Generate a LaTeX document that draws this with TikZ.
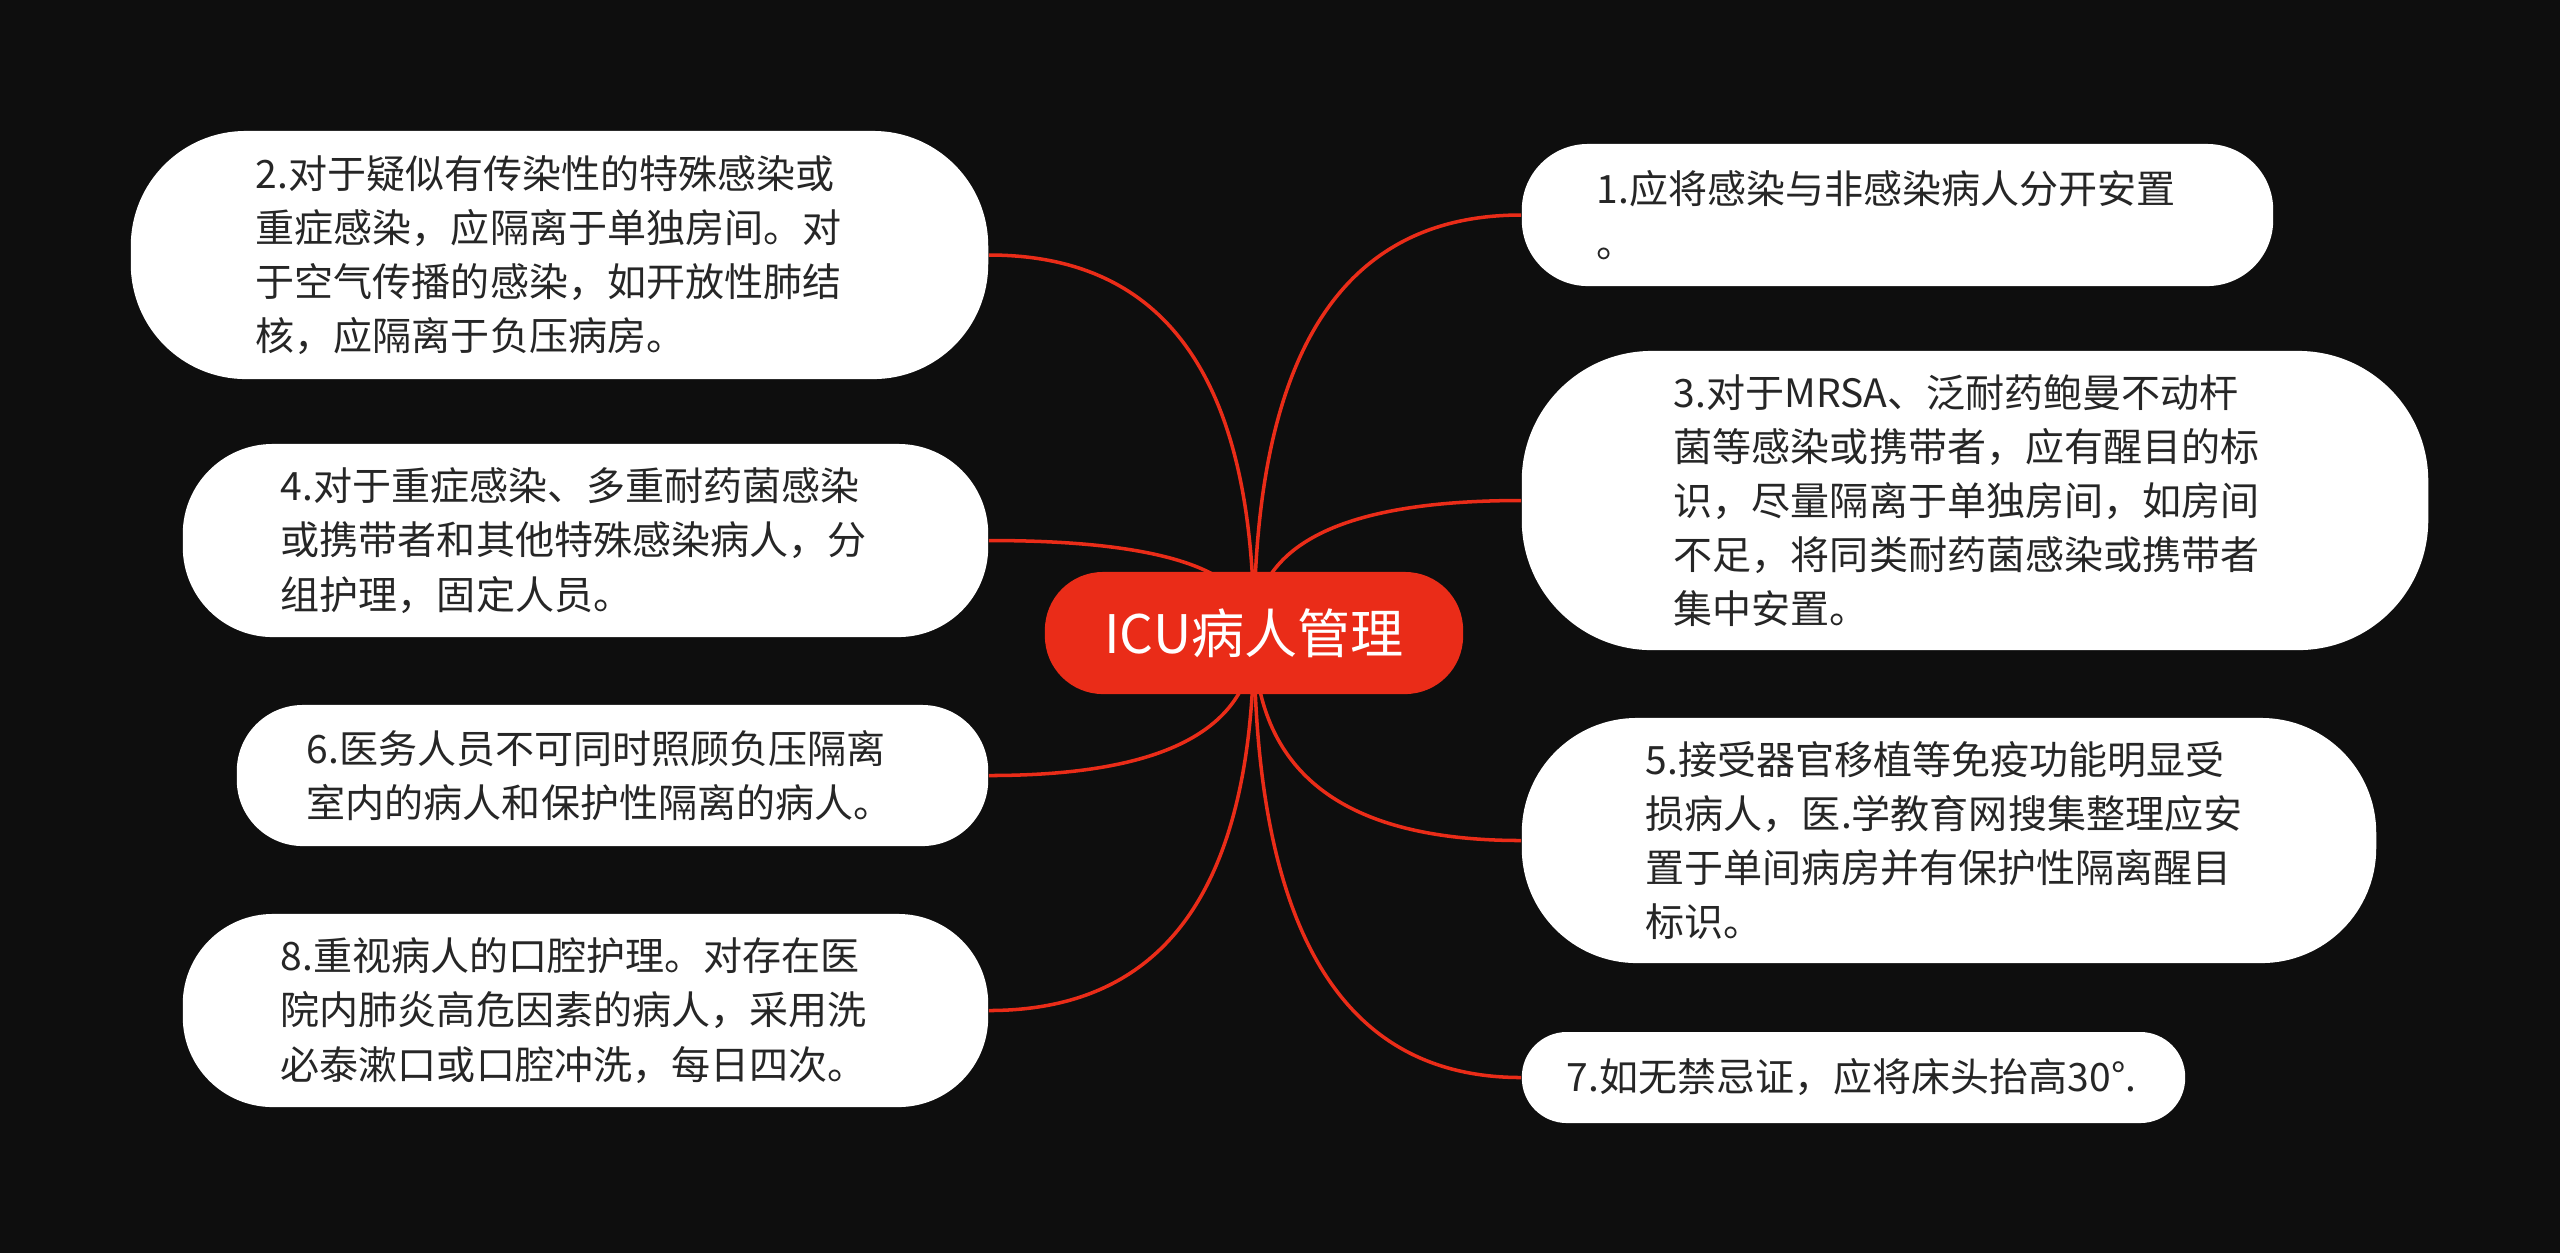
\documentclass[tikz,border=0pt]{standalone}
\usepackage{fontspec}
\setmainfont{Noto Sans CJK SC}
\usetikzlibrary{calc}
\definecolor{bgblack}{RGB}{14,14,14}
\definecolor{icured}{RGB}{234,44,24}
\definecolor{ink}{RGB}{38,38,38}
\pgfdeclarelayer{back}
\pgfdeclarelayer{wires}
\pgfsetlayers{back,wires,main}
\tikzset{
  leaf/.style={fill=white, text=ink, align=left, inner sep=0pt,
    font=\fontsize{11.1pt}{15.4pt}\selectfont},
  topic/.style={fill=icured, text=white, inner sep=0pt, rounded corners=0.58cm,
    minimum width=4.18cm, minimum height=1.22cm,
    font=\fontsize{15.1pt}{18pt}\selectfont},
  link/.style={draw=icured, line width=1pt,
    to path={.. controls ($(\tikztostart)!0.67!(\tikztostart|-\tikztotarget)$)
      and ($(\tikztotarget)!0.67!(\tikztostart|-\tikztotarget)$) .. (\tikztotarget)}},
}
\begin{document}
\begin{tikzpicture}[x=0.01cm, y=-0.01cm]
\useasboundingbox (0,0) rectangle (2560,1253);
\begin{pgfonlayer}{back}
\fill[bgblack] (0,0) rectangle (2560,1253);
\end{pgfonlayer}

\node[topic] (root) at (1254,633) {ICU病人管理};

% left side
\node[leaf, minimum width=8.57cm, minimum height=2.48cm, text width=6.07cm, rounded corners=1.15cm]
  (b2) at (559.5,255) {2.对于疑似有传染性的特殊感染或\\重症感染，应隔离于单独房间。对\\于空气传播的感染，如开放性肺结\\核，应隔离于负压病房。};
\node[leaf, minimum width=8.05cm, minimum height=1.93cm, text width=6.09cm, rounded corners=0.9cm]
  (b4) at (585.5,540.5) {4.对于重症感染、多重耐药菌感染\\或携带者和其他特殊感染病人，分\\组护理，固定人员。};
\node[leaf, minimum width=7.51cm, minimum height=1.41cm, text width=6.11cm, rounded corners=0.66cm]
  (b6) at (612.5,775.5) {6.医务人员不可同时照顾负压隔离\\室内的病人和保护性隔离的病人。};
\node[leaf, minimum width=8.05cm, minimum height=1.93cm, text width=6.09cm, rounded corners=0.9cm]
  (b8) at (585.5,1010.5) {8.重视病人的口腔护理。对存在医\\院内肺炎高危因素的病人，采用洗\\必泰漱口或口腔冲洗，每日四次。};

% right side
\node[leaf, minimum width=7.51cm, minimum height=1.42cm, text width=6.01cm, rounded corners=0.66cm]
  (b1) at (1897.5,215) {1.应将感染与非感染病人分开安置\\。};
\node[leaf, minimum width=9.06cm, minimum height=2.99cm, text width=6.02cm, rounded corners=1.3cm]
  (b3) at (1975,500.5) {3.对于MRSA、泛耐药鲍曼不动杆\\菌等感染或携带者，应有醒目的标\\识，尽量隔离于单独房间，如房间\\不足，将同类耐药菌感染或携带者\\集中安置。};
\node[leaf, minimum width=8.54cm, minimum height=2.45cm, text width=6.06cm, rounded corners=1.15cm]
  (b5) at (1949,840.5) {5.接受器官移植等免疫功能明显受\\损病人，医.学教育网搜集整理应安\\置于单间病房并有保护性隔离醒目\\标识。};
\node[leaf, minimum width=6.63cm, minimum height=0.91cm, text width=5.73cm, rounded corners=0.45cm]
  (b7) at (1853.5,1077.5) {7.如无禁忌证，应将床头抬高30°.};

\begin{pgfonlayer}{wires}
\foreach \b in {b2,b4,b6,b8}
  \draw[link] (root.center) to (\b.east);
\foreach \b in {b1,b3,b5,b7}
  \draw[link] (root.center) to (\b.west);
\end{pgfonlayer}
\end{tikzpicture}
\end{document}
